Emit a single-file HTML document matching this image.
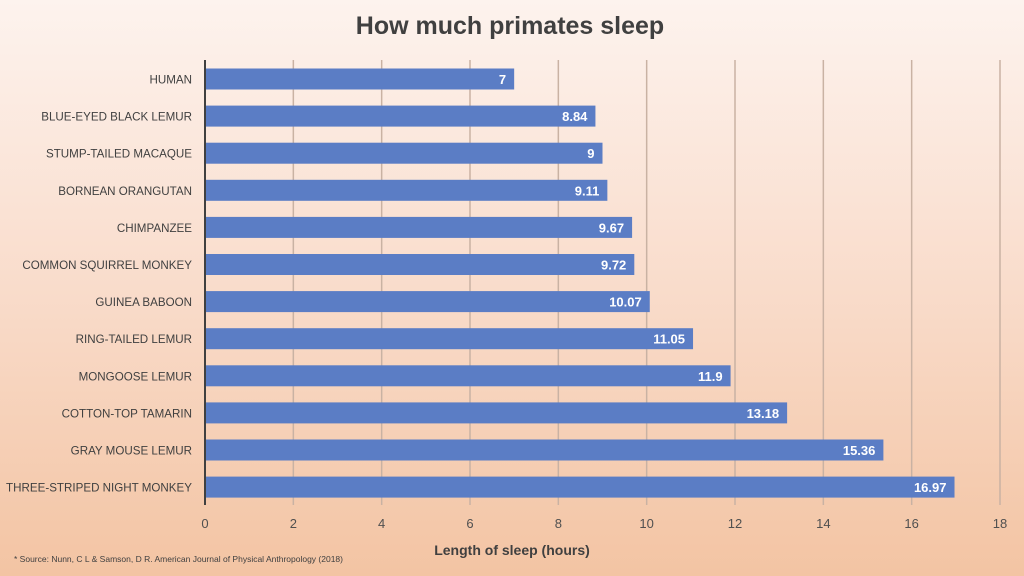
<!DOCTYPE html>
<html><head><meta charset="utf-8"><style>
body{margin:0;width:1024px;height:576px;overflow:hidden;background:linear-gradient(180deg,#fdf3ee 0%,#f9dccb 50%,#f3c4a3 100%);font-family:"Liberation Sans",sans-serif}
svg{position:absolute;left:0;top:0}
</style></head><body>
<svg id="c" width="1024" height="576">
<text x="510" y="34" text-anchor="middle" font-size="25" font-weight="bold" fill="#404040">How much primates sleep</text>
<text x="512" y="555" text-anchor="middle" font-size="14" font-weight="bold" fill="#404040">Length of sleep (hours)</text>
<text x="14" y="562" font-size="8.5" fill="#404040">* Source: Nunn, C L &amp; Samson, D R. American Journal of Physical Anthropology (2018)</text>
</svg>
<script>
const categories=["HUMAN","BLUE-EYED BLACK LEMUR","STUMP-TAILED MACAQUE","BORNEAN ORANGUTAN","CHIMPANZEE","COMMON SQUIRREL MONKEY","GUINEA BABOON","RING-TAILED LEMUR","MONGOOSE LEMUR","COTTON-TOP TAMARIN","GRAY MOUSE LEMUR","THREE-STRIPED NIGHT MONKEY"];
const values=[7,8.84,9,9.11,9.67,9.72,10.07,11.05,11.9,13.18,15.36,16.97];
const ticks=[0,2,4,6,8,10,12,14,16,18];
const svg=document.getElementById('c');const NS="http://www.w3.org/2000/svg";
const x0=205,x1=1000,xmax=18;const X=v=>x0+(x1-x0)*v/xmax;
const y0=79,step=37.1;const Y=i=>y0+i*step;
function mk(t,a){const e=document.createElementNS(NS,t);for(const k in a)e.setAttribute(k,a[k]);svg.appendChild(e);return e;}
ticks.forEach(t=>{
 if(t>0){const g=mk('line',{x1:X(t),x2:X(t),y1:60,y2:505,stroke:'#c9b2a3','stroke-width':1.5});
 
 }
 const l=mk('text',{x:X(t),y:528,'text-anchor':'middle','font-size':13,fill:'#505050'});l.textContent=t;
 
 
});
categories.forEach((c,i)=>{
 const y=Y(i);
 const b=mk('rect',{x:x0,y:y-10.5,width:X(values[i])-x0,height:21,fill:'#5b7dc5'});
 
 
 const v=mk('text',{x:X(values[i])-8,y:y+5,'text-anchor':'end','font-size':13,'font-weight':'bold',fill:'#fff'});v.textContent=values[i];
 
 
 const l=mk('text',{x:192,y:y+4.5,'text-anchor':'end','font-size':11.6,fill:'#404040'});l.textContent=c;
 
 
});
const ax=mk('line',{x1:x0,x2:x0,y1:60,y2:505,stroke:'#404040','stroke-width':2});


</script>
</body></html>
